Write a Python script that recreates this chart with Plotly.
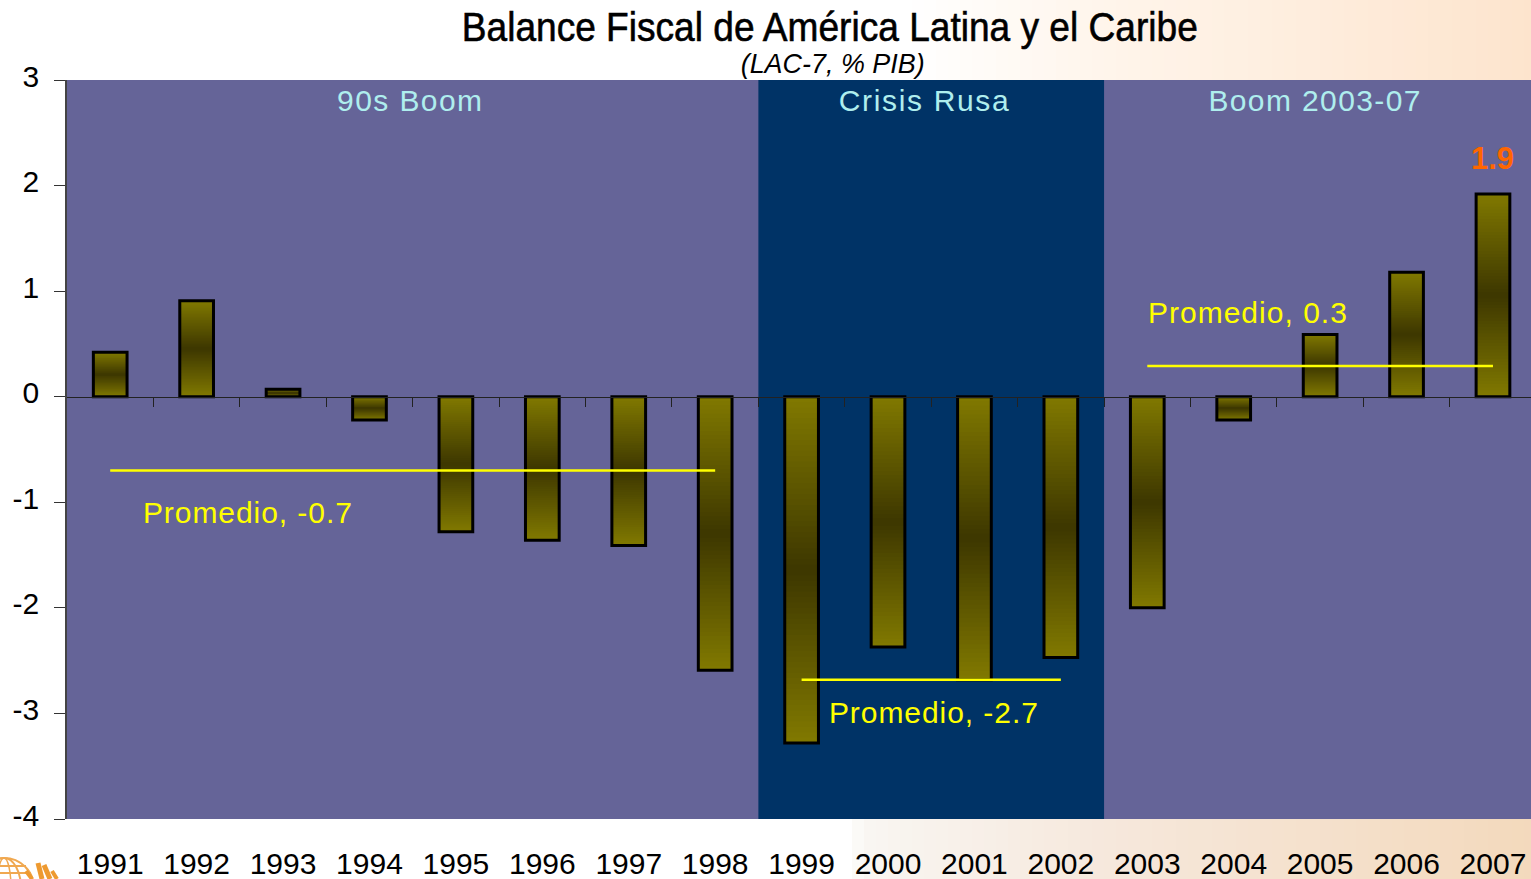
import json
import plotly.graph_objects as go

YEARS = ["1991","1992","1993","1994","1995","1996","1997","1998","1999","2000","2001","2002","2003","2004","2005","2006","2007"]
BALANCE = [0.42,0.91,0.07,-0.22,-1.28,-1.36,-1.41,-2.59,-3.28,-2.37,-2.68,-2.47,-2.00,-0.22,0.59,1.18,1.92]
AVG_LABELS = ["Promedio, -0.7","Promedio, -2.7","Promedio, 0.3"]
AVG_VALUES = [-0.70,-2.68,0.29]
AVG_SPANS = [("1991","1998"),("1999","2002"),("2003","2007")]
PERIODS = ["90s Boom","Crisis Rusa","Boom 2003-07"]
TITLE = "Balance Fiscal de América Latina y el Caribe"
SUBTITLE = "(LAC-7, % PIB)"
Y_TICKS = [3,2,1,0,-1,-2,-3,-4]
Y_TICK_TEXT = ["3","2","1","0","-1","-2","-3","-4"]

W, H = 1531, 879
L, T, B = 67, 80, 60
PW, PH = W - L, H - T - B
XR = [-0.5, 16.44]
YR = [-4, 3]
FONT = "Liberation Sans"

# rendered widths of the stretched / letter-spaced labels
TEXT_FIT = {
    TITLE: (736, "spacingAndGlyphs"), SUBTITLE: (184, "spacingAndGlyphs"),
    PERIODS[0]: (145, "spacing"), PERIODS[1]: (170, "spacing"), PERIODS[2]: (212, "spacing"),
    AVG_LABELS[0]: (209, "spacing"), AVG_LABELS[1]: (209, "spacing"), AVG_LABELS[2]: (199, "spacing"),
}

def px(x): return (x - L) / PW
def py(y): return 1 - (y - T) / PH
def lerp(stops, x):
    for (a, ca), (b, cb) in zip(stops, stops[1:]):
        if a <= x <= b:
            t = (x - a) / (b - a)
            return tuple(ca[i] + (cb[i] - ca[i]) * t for i in range(3))
    return stops[-1][1]
def rgb(c): return "rgb(%d,%d,%d)" % tuple(round(v) for v in c)

fig = go.Figure()

# vertical gradient inside every bar: nested bars from the full value inwards to its middle
N = 32
END, MID = (128, 120, 0), (62, 56, 0)
for i in range(N):
    f = i / (2 * N)
    t = (i / (N - 1))
    col = tuple(END[k] + (MID[k] - END[k]) * t for k in range(3))
    fig.add_bar(x=YEARS, y=[v * (1 - 2 * f) for v in BALANCE], base=[v * f for v in BALANCE],
                width=0.39, marker=dict(color=rgb(col), line=dict(width=0)),
                hoverinfo="skip", showlegend=False)
fig.add_bar(x=YEARS, y=BALANCE, width=0.39,
            marker=dict(color="rgba(0,0,0,0)", line=dict(color="#000000", width=3)),
            showlegend=False, name="Balance")

# average lines on the overlaid linear axis that also draws the zero line and its ticks
for (a, b), v in zip(AVG_SPANS, AVG_VALUES):
    fig.add_scatter(x=[YEARS.index(a), YEARS.index(b)], y=[v, v], xaxis="x2", mode="lines",
                    line=dict(color="#FFFF00", width=2.5), showlegend=False, hoverinfo="skip")

shapes = []
shapes.append(dict(type="rect", xref="x", yref="paper", x0=7.5, x1=11.5, y0=0, y1=1,
                   fillcolor="#003366", line=dict(width=0), layer="below"))
TOP = [(0,(255,255,255)),(900,(255,255,255)),(1100,(255,245,235)),(1531,(253,228,205))]
BOT = [(0,(255,255,255)),(840,(255,255,255)),(860,(249,246,242)),(1100,(246,232,220)),(1531,(243,217,188))]
step = 12
for x in range(840, W, step):
    shapes.append(dict(type="rect", xref="paper", yref="paper", x0=px(x), x1=px(x + step), y0=py(T), y1=py(0),
                       fillcolor=rgb(lerp(TOP, x)), line=dict(width=0), layer="below"))
    shapes.append(dict(type="rect", xref="paper", yref="paper", x0=px(x), x1=px(x + step), y0=py(H), y1=py(T + PH),
                       fillcolor=rgb(lerp(BOT, x)), line=dict(width=0), layer="below"))

# emblem fragment in the lower-left corner
ORG = "#F0A850"
def ring(cx, cy, rx, ry, w=1.5):
    return dict(type="circle", xref="paper", yref="paper", x0=px(cx-rx), x1=px(cx+rx), y0=py(cy+ry), y1=py(cy-ry),
                line=dict(color=ORG, width=w), layer="below")
shapes += [ring(4, 888, 30, 30, 2), ring(4, 888, 17, 30, 2), ring(4, 888, 7, 30, 1.5)]
for yy, xe in [(866, 26), (873, 31)]:
    shapes.append(dict(type="line", xref="paper", yref="paper", x0=px(0), x1=px(xe), y0=py(yy), y1=py(yy),
                       line=dict(color=ORG, width=2), layer="below"))
for x0, y0, x1, y1, w in [(32,879,26,871,4),(42,879,38,863,5),(50,879,44,865,5),(57,879,52,871,4)]:
    shapes.append(dict(type="line", xref="paper", yref="paper", x0=px(x0), x1=px(x1), y0=py(y0), y1=py(y1),
                       line=dict(color="#EE9A30", width=w), layer="below"))

ann = []
def note(text, x, y, color, size, weight="normal", style="normal", xref="x", yref="y"):
    ann.append(dict(text=text, x=x, y=y, xref=xref, yref=yref, showarrow=False, xanchor="center", yanchor="middle",
                    font=dict(family=FONT, size=size, color=color, weight=weight, style=style)))

PALE = "#AFEEEE"
for label, x in zip(PERIODS, [3.46, 9.42, 13.94]):
    note(label, x, 2.81, PALE, 30)
for label, x, y in zip(AVG_LABELS, [1.59, 9.53, 13.16], [-1.10, -2.99, 0.795]):
    note(label, x, y, "#FFFF00", 30)
note("%.1f" % BALANCE[-1], YEARS.index("2007"), 2.26, "#FF6600", 31, weight="bold")
note(TITLE, px(830), py(27), "#000000", 41, xref="paper", yref="paper")
note(SUBTITLE, px(832), py(63), "#000000", 28, style="italic", xref="paper", yref="paper")

fig.update_layout(
    width=W, height=H, margin=dict(l=L, r=0, t=T, b=B, pad=0, autoexpand=False),
    paper_bgcolor="#FFFFFF", plot_bgcolor="#656498",
    barmode="overlay", bargap=0.6, shapes=shapes, annotations=ann,
    font=dict(family=FONT, size=30, color="#000000"), showlegend=False,
    xaxis=dict(type="category", categoryorder="array", categoryarray=YEARS, range=XR, showgrid=False, zeroline=False,
               showline=False, ticks="", tickfont=dict(size=30), ticklabelstandoff=24, tickangle=0, tickmode="array",
               tickvals=YEARS, ticktext=YEARS, automargin=False),
    xaxis2=dict(type="linear", overlaying="x", anchor="free", position=(0 - YR[0]) / (YR[1] - YR[0]), side="bottom",
                range=XR, showgrid=False, zeroline=False, showline=True, linecolor="#222222", linewidth=1,
                ticks="outside", ticklen=9, tickcolor="#222222", tickwidth=1, showticklabels=False,
                tickmode="array", tickvals=[i + 0.5 for i in range(len(YEARS) - 1)], automargin=False),
    yaxis=dict(range=YR, tickmode="array", tickvals=Y_TICKS, ticktext=Y_TICK_TEXT, showgrid=False, zeroline=False,
               showline=True, linecolor="#444444", linewidth=1.5, ticks="outside", ticklen=11, tickcolor="#333333",
               tickwidth=1, tickfont=dict(size=30), ticklabelstandoff=9, ticklabelshift=-4, automargin=False),
)
post = """
document.body.style.margin='0';document.body.style.overflow='hidden';
var fit=%s;
var titleText=%s;
document.querySelectorAll('.annotation-text').forEach(function(t){
  var f=fit[t.textContent];
  if(f){t.setAttribute('textLength',f[0]);t.setAttribute('lengthAdjust',f[1]);}
  if(t.textContent===titleText){t.style.stroke='#000';t.style.strokeWidth='0.6px';}
});
""" % (json.dumps(TEXT_FIT, ensure_ascii=False), json.dumps(TITLE, ensure_ascii=False))
fig.write_html("out.html", post_script=post, config={"displayModeBar": False})
